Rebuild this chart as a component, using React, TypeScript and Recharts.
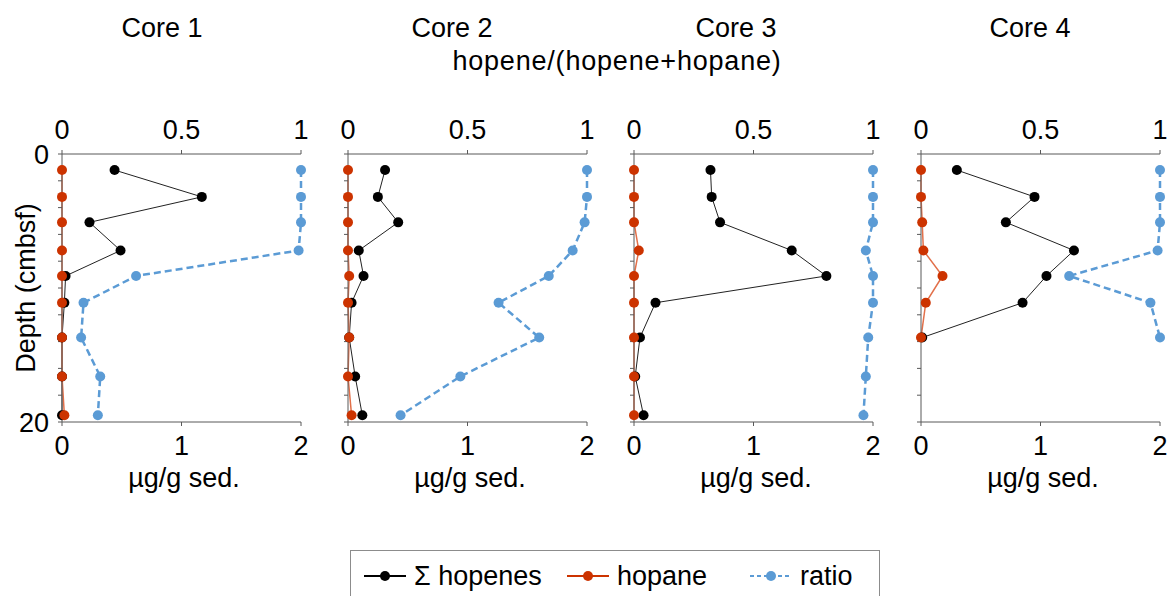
import { LineChart, Line, XAxis, YAxis } from "recharts";

// sample depths (cmbsf); core 4 stops after the seventh interval
const depths = [1.2, 3.2, 5.1, 7.2, 9.1, 11.1, 13.7, 16.6, 19.5];
const depthTicks = [0, 2, 4, 6, 8, 10, 12, 14, 16, 18, 20];
const ratioTicks = [0, 0.5, 1];
const concTicks = [0, 1, 2];
const coreNames = ["Core 1", "Core 2", "Core 3", "Core 4"];

// Σ hopenes (µg/g sed.)
const core1Hopenes = [0.44, 1.17, 0.23, 0.49, 0.03, 0.02, 0.0, 0.0, 0.0];
const core2Hopenes = [0.31, 0.25, 0.42, 0.09, 0.13, 0.03, 0.01, 0.06, 0.12];
const core3Hopenes = [0.64, 0.65, 0.72, 1.32, 1.61, 0.18, 0.05, 0.01, 0.08];
const core4Hopenes = [0.3, 0.95, 0.71, 1.28, 1.05, 0.85, 0.01];

// hopane (µg/g sed.)
const core1Hopane = [0, 0, 0, 0, 0, 0, 0, 0, 0.02];
const core2Hopane = [0, 0, 0, 0, 0.01, 0, 0.01, 0, 0.03];
const core3Hopane = [0, 0, 0, 0.04, 0, 0, 0, 0, 0];
const core4Hopane = [0, 0, 0.01, 0.02, 0.18, 0.04, 0];

// hopene/(hopene+hopane)
const core1Ratio = [1.0, 1.0, 1.0, 0.99, 0.31, 0.09, 0.08, 0.16, 0.15];
const core2Ratio = [1.0, 1.0, 0.99, 0.94, 0.84, 0.63, 0.8, 0.47, 0.22];
const core3Ratio = [1.0, 1.0, 1.0, 0.97, 1.0, 1.0, 0.98, 0.97, 0.96];
const core4Ratio = [1.0, 1.0, 1.0, 0.99, 0.62, 0.96, 1.0];

const FONT = '"Liberation Sans", Arial, sans-serif';
const FS = 27;
const AXIS = "#595959";
const HOPANE_MARK = "#CC3300";
const HOPANE_LINE = "#E2704A";
const RATIO = "#5B9BD5";

type Row = { depth: number; hopenes: number; hopane: number; ratio: number };

const buildRows = (h: number[], p: number[], r: number[]): Row[] =>
  h.map((v, i) => ({ depth: depths[i], hopenes: v, hopane: p[i], ratio: r[i] }));

const cores = [
  buildRows(core1Hopenes, core1Hopane, core1Ratio),
  buildRows(core2Hopenes, core2Hopane, core2Ratio),
  buildRows(core3Hopenes, core3Hopane, core3Ratio),
  buildRows(core4Hopenes, core4Hopane, core4Ratio),
];

// left edge of each plot area
const plotLefts = [62, 348, 634, 921];
const titleCenters = [162, 452, 736, 1030];

const tickStyle = { fill: "#000", fontSize: FS, fontFamily: FONT };

const CorePanel = ({ rows, left, showDepth }: { rows: Row[]; left: number; showDepth: boolean }) => (
  <div style={{ position: "absolute", left: left - 60, top: 0 }}>
    <LineChart
      width={323}
      height={500}
      layout="vertical"
      data={rows}
      margin={{ top: 94, right: 24, bottom: 18, left: 10 }}
    >
      <XAxis
        xAxisId="ratio"
        orientation="top"
        type="number"
        domain={[0, 1]}
        ticks={ratioTicks}
        height={60}
        tick={tickStyle}
        tickSize={4}
        tickMargin={11}
        axisLine={{ stroke: AXIS }}
        tickLine={{ stroke: AXIS }}
        interval={0}
      />
      <XAxis
        xAxisId="conc"
        orientation="bottom"
        type="number"
        domain={[0, 2]}
        ticks={concTicks}
        height={60}
        tick={tickStyle}
        tickSize={4}
        tickMargin={10}
        axisLine={{ stroke: AXIS }}
        tickLine={{ stroke: AXIS }}
        interval={0}
      />
      <YAxis
        yAxisId="depth"
        type="number"
        dataKey="depth"
        domain={[0, 20]}
        ticks={depthTicks}
        width={50}
        interval={0}
        tick={tickStyle}
        tickSize={4}
        tickMargin={9}
        axisLine={{ stroke: AXIS }}
        tickLine={{ stroke: AXIS }}
        tickFormatter={(v: number) => (showDepth && (v === 0 || v === 20) ? String(v) : "")}
      />
      <Line
        xAxisId="conc"
        yAxisId="depth"
        dataKey="hopenes"
        type="linear"
        stroke="#222"
        strokeWidth={1}
        dot={{ r: 5, fill: "#000", stroke: "#000", strokeWidth: 0 }}
        activeDot={false}
        isAnimationActive={false}
      />
      <Line
        xAxisId="conc"
        yAxisId="depth"
        dataKey="hopane"
        type="linear"
        stroke={HOPANE_LINE}
        strokeWidth={1.5}
        dot={{ r: 5, fill: HOPANE_MARK, stroke: HOPANE_MARK, strokeWidth: 0 }}
        activeDot={false}
        isAnimationActive={false}
      />
      <Line
        xAxisId="ratio"
        yAxisId="depth"
        dataKey="ratio"
        type="linear"
        stroke={RATIO}
        strokeWidth={2.5}
        strokeDasharray="7 4"
        dot={{ r: 5, fill: RATIO, stroke: RATIO, strokeWidth: 0, strokeDasharray: "" }}
        activeDot={false}
        isAnimationActive={false}
      />
    </LineChart>
  </div>
);

const text = (content: string, cx: number, baseline: number, spacing = 0) => (
  <div
    key={`${content}-${cx}`}
    style={{
      position: "absolute",
      left: cx - 250,
      width: 500,
      top: baseline - FS * 0.85,
      fontSize: FS,
      lineHeight: `${FS}px`,
      letterSpacing: spacing,
      textAlign: "center",
      whiteSpace: "nowrap",
    }}
  >
    {content}
  </div>
);

const LegendIcon = ({ color, dashed }: { color: string; dashed?: boolean }) => (
  <svg width={42} height={14} style={{ display: "block" }}>
    <line
      x1={0}
      y1={7}
      x2={42}
      y2={7}
      stroke={color}
      strokeWidth={2}
      strokeDasharray={dashed ? "4 3" : undefined}
    />
    <circle cx={21} cy={7} r={5} fill={color} />
  </svg>
);

const legendItems = [
  { label: "Σ hopenes", left: 364, color: "#000", dashed: false },
  { label: "hopane", left: 567, color: HOPANE_MARK, dashed: false },
  { label: "ratio", left: 750, color: RATIO, dashed: true },
];

export default function App() {
  return (
    <div
      style={{
        position: "absolute",
        left: 0,
        top: 0,
        width: 1168,
        height: 596,
        overflow: "hidden",
        background: "#fff",
        fontFamily: FONT,
        color: "#000",
      }}
    >
      {coreNames.map((name, i) => text(name, titleCenters[i], 38))}
      {text("hopene/(hopene+hopane)", 617, 71, 0.8)}

      {cores.map((rows, i) => (
        <CorePanel key={coreNames[i]} rows={rows} left={plotLefts[i]} showDepth={i === 0} />
      ))}

      {plotLefts.map((l) => text("µg/g sed.", l + 122, 488))}

      <div
        style={{
          position: "absolute",
          left: 26,
          top: 288,
          fontSize: FS,
          lineHeight: `${FS}px`,
          whiteSpace: "nowrap",
          transform: "translate(-50%, -50%) rotate(-90deg)",
        }}
      >
        Depth (cmbsf)
      </div>

      <div
        style={{
          position: "absolute",
          left: 350,
          top: 550,
          width: 530,
          height: 70,
          border: "1.5px solid #8c8c8c",
          boxSizing: "border-box",
        }}
      />
      {legendItems.map((item) => (
        <div
          key={item.label}
          style={{
            position: "absolute",
            left: item.left,
            top: 576 - 14,
            height: 28,
            display: "flex",
            alignItems: "center",
            gap: 8,
            fontSize: FS,
            whiteSpace: "nowrap",
          }}
        >
          <LegendIcon color={item.color} dashed={item.dashed} />
          <span>{item.label}</span>
        </div>
      ))}
    </div>
  );
}
